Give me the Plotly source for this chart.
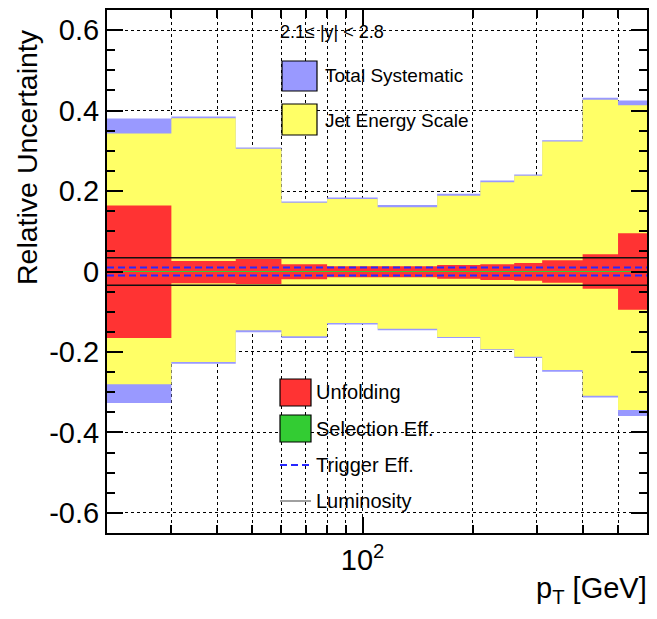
import plotly.graph_objects as go

# ---------------- data ----------------
bin_edges = [20, 30, 45, 60, 80, 110, 160, 210, 260, 310, 400, 500, 600]
total_up = [0.380, 0.385, 0.308, 0.174, 0.184, 0.165, 0.193, 0.226, 0.241, 0.326, 0.432, 0.425]
total_down = [-0.327, -0.229, -0.151, -0.165, -0.132, -0.146, -0.165, -0.195, -0.215, -0.249, -0.313, -0.359]
jes_up = [0.343, 0.381, 0.305, 0.171, 0.180, 0.160, 0.188, 0.222, 0.238, 0.323, 0.427, 0.413]
jes_down = [-0.280, -0.225, -0.146, -0.161, -0.128, -0.142, -0.163, -0.193, -0.212, -0.245, -0.309, -0.344]
unf_up = [0.164, 0.026, 0.031, 0.018, 0.013, 0.013, 0.016, 0.018, 0.021, 0.028, 0.043, 0.095]
unf_down = [-0.165, -0.029, -0.031, -0.019, -0.014, -0.014, -0.018, -0.021, -0.023, -0.028, -0.043, -0.095]
selection_unc = 0.0
trigger_unc = 0.010
lumi_unc = 0.034

y_ticks = [-0.6, -0.4, -0.2, 0, 0.2, 0.4, 0.6]
y_ticklabels = ["-0.6", "-0.4", "-0.2", "0", "0.2", "0.4", "0.6"]
x_major = [100]
x_major_labels = ["10<sup>2</sup>"]
x_minor = [30, 40, 50, 60, 70, 80, 90, 200, 300, 400, 500]

C_TOTAL = "rgb(153,153,255)"
C_JES = "rgb(255,255,102)"
C_UNF = "rgb(255,51,51)"
C_SEL = "rgb(51,204,51)"
C_TRIG = "rgb(40,40,255)"
FONT = "Liberation Sans, Arial, Helvetica, sans-serif"


def band(edges, up, down):
    xs, ys = [], []
    for i in range(len(up)):
        xs += [edges[i], edges[i + 1]]
        ys += [up[i], up[i]]
    for i in reversed(range(len(down))):
        xs += [edges[i + 1], edges[i]]
        ys += [down[i], down[i]]
    xs.append(xs[0])
    ys.append(ys[0])
    return xs, ys


fig = go.Figure()
for up, dn, col in [(total_up, total_down, C_TOTAL), (jes_up, jes_down, C_JES), (unf_up, unf_down, C_UNF)]:
    xs, ys = band(bin_edges, up, dn)
    fig.add_trace(go.Scatter(x=xs, y=ys, mode="lines", fill="toself", fillcolor=col,
                             line=dict(width=0, color=col), hoverinfo="skip", showlegend=False))

xr = [bin_edges[0], bin_edges[-1]]
fig.add_trace(go.Scatter(x=xr, y=[selection_unc, selection_unc], mode="lines",
                         line=dict(color=C_SEL, width=1), showlegend=False))
for s in (1, -1):
    fig.add_trace(go.Scatter(x=xr, y=[s * trigger_unc] * 2, mode="lines",
                             line=dict(color=C_TRIG, width=2, dash="7px,4px"), showlegend=False))
for s in (1, -1):
    fig.add_trace(go.Scatter(x=xr, y=[s * lumi_unc] * 2, mode="lines",
                             line=dict(color="#111111", width=1.5), showlegend=False))

# ------------- layout -------------
# the page body has an 8px margin; positions below are in screenshot pixels
OFF = 8
W, H = 657 - 2 * OFF, 600
L, R, T, B = 107, 647, 10, 533  # plot frame in screenshot pixels


def px(x):
    return (x - L) / (R - L)


def py(y):
    return (B - y) / (B - T)


shapes = []
annots = []


def box(x0, y0, x1, y1, col):
    shapes.append(dict(type="rect", xref="paper", yref="paper", x0=px(x0), x1=px(x1),
                       y0=py(y1), y1=py(y0), fillcolor=col, line=dict(color="black", width=1.2)))


def text(x, y, s, size, xanchor="left"):
    annots.append(dict(xref="paper", yref="paper", x=px(x), y=py(y), text=s, showarrow=False,
                       xanchor=xanchor, yanchor="middle", font=dict(family=FONT, size=size, color="black")))


text(278, 32, "2.1≤ |y| < 2.8", 18)
box(282, 61, 317, 91, C_TOTAL)
text(323, 75, "Total Systematic", 19)
box(282, 104, 317, 135, C_JES)
text(323, 120, "Jet Energy Scale", 19)

box(280, 379, 311, 406, C_UNF)
text(314, 392, "Unfolding", 20)
box(280, 415, 311, 442, C_SEL)
text(314, 429, "Selection Eff.", 20)
shapes.append(dict(type="line", xref="paper", yref="paper", x0=px(280), x1=px(311), y0=py(465), y1=py(465),
                   line=dict(color=C_TRIG, width=2, dash="7px,4px")))
text(314, 465, "Trigger Eff.", 20)
shapes.append(dict(type="line", xref="paper", yref="paper", x0=px(280), x1=px(311), y0=py(501), y1=py(501),
                   line=dict(color="gray", width=1.5)))
text(314, 501, "Luminosity", 20)

annots.append(dict(xref="paper", yref="paper", x=px(27), y=py(157), text="Relative Uncertainty", textangle=-90,
                   showarrow=False, xanchor="center", yanchor="middle", font=dict(family=FONT, size=28.5, color="black")))
annots.append(dict(xref="paper", yref="paper", x=px(649), y=py(590), text="p<sub>T</sub> [GeV]",
                   showarrow=False, xanchor="right", yanchor="middle", font=dict(family=FONT, size=29, color="black")))

fig.update_layout(
    width=W, height=H, margin=dict(l=L - OFF, r=W - (R - OFF), t=T - OFF, b=H - (B - OFF), autoexpand=False),
    paper_bgcolor="white", plot_bgcolor="white", showlegend=False,
    shapes=shapes, annotations=annots,
    font=dict(family=FONT, size=29, color="black"),
)
fig.update_xaxes(type="log", range=[1.30103, 2.778151], showline=True, linecolor="black", linewidth=2,
                 mirror="ticks", ticks="inside", ticklen=16, tickwidth=1.5, tickcolor="black",
                 tickmode="array", tickvals=x_major, ticktext=x_major_labels,
                 showgrid=True, gridcolor="black", griddash="dot", gridwidth=1,
                 minor=dict(tickmode="array", tickvals=x_minor, ticks="inside", ticklen=8, tickwidth=1.5,
                            tickcolor="black", showgrid=True, gridcolor="black", griddash="dot", gridwidth=1),
                 tickfont=dict(family=FONT, size=29), zeroline=False)
fig.update_yaxes(range=[-0.65, 0.65], showline=True, linecolor="black", linewidth=2,
                 mirror="ticks", ticks="inside", ticklen=16, tickwidth=1.5, tickcolor="black",
                 tickmode="array", tickvals=y_ticks, ticktext=y_ticklabels,
                 showgrid=True, gridcolor="black", griddash="dot", gridwidth=1,
                 minor=dict(dtick=0.05, tick0=0, ticks="inside", ticklen=8, tickwidth=1.5, tickcolor="black",
                            showgrid=False),
                 tickfont=dict(family=FONT, size=29), zeroline=False)

fig.write_html("out.html")
